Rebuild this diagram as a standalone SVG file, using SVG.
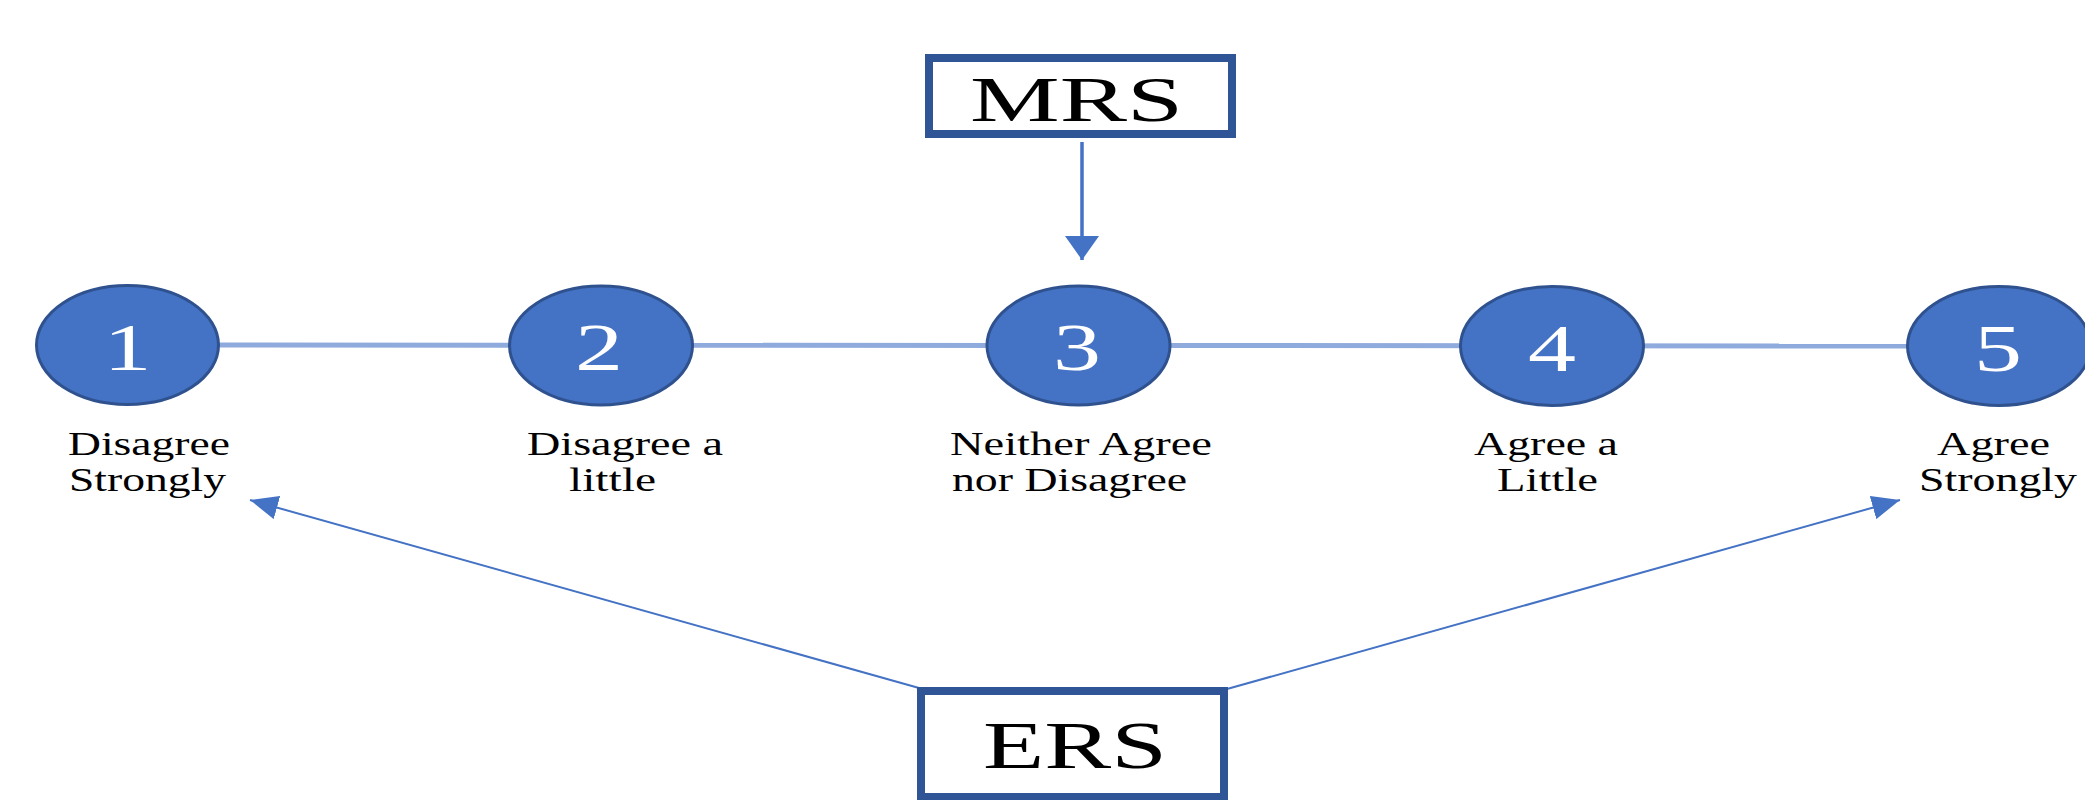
<svg xmlns="http://www.w3.org/2000/svg" width="2085" height="800" viewBox="0 0 2085 800">
<style>
.bg{fill:#ffffff}
.box{fill:#ffffff;stroke:#2F5597;stroke-width:8}
.boxtxt{font-family:"Liberation Serif","Times New Roman",serif;font-size:68px;fill:#000000}
.mrstxt{font-size:64px}
.dot{fill:#4472C4;stroke:#2F528F;stroke-width:3}
.num{font-family:"Liberation Serif","Times New Roman",serif;font-size:68px;fill:#ffffff;text-anchor:middle}
.lbl{font-family:"Liberation Serif","Times New Roman",serif;font-size:33px;fill:#000000}
.scale{fill:none;stroke:#8FAADC;stroke-width:5}
.arr{fill:none;stroke:#4472C4;stroke-width:2}
.arrv{fill:none;stroke:#4472C4;stroke-width:3.5}
</style>
<defs>
<marker id="headV" markerUnits="userSpaceOnUse" markerWidth="24" markerHeight="34" refX="24" refY="17" orient="auto">
<path d="M0,0 L24,17 L0,34 z" fill="#4472C4"/>
</marker>
<marker id="headS" markerUnits="userSpaceOnUse" markerWidth="28" markerHeight="24" refX="28" refY="12" orient="auto">
<path d="M0,0 L28,12 L0,24 z" fill="#4472C4"/>
</marker>
</defs>
<rect class="bg" x="0" y="0" width="2085" height="800"/>
<g id="connectors">
<line class="scale" x1="127" y1="345" x2="1999" y2="346"/>
<line class="arrv" x1="1082" y1="142" x2="1082" y2="260" marker-end="url(#headV)"/>
<line class="arr" x1="919" y1="688" x2="250" y2="500" marker-end="url(#headS)"/>
<line class="arr" x1="1227" y1="689" x2="1900" y2="500" marker-end="url(#headS)"/>
</g>
<g id="node-mrs">
<rect class="box" x="929" y="58" width="303" height="76"/>
<text class="boxtxt mrstxt" x="970" y="121" textLength="213" lengthAdjust="spacingAndGlyphs">MRS</text>
</g>
<g id="node-ers">
<rect class="box" x="921" y="691" width="303" height="106"/>
<text class="boxtxt" x="983" y="768" textLength="184" lengthAdjust="spacingAndGlyphs">ERS</text>
</g>
<g id="node-1">
<ellipse class="dot" cx="127.5" cy="345" rx="91" ry="59.5"/>
<text class="num" x="127.5" y="370" textLength="48" lengthAdjust="spacingAndGlyphs">1</text>
<text class="lbl" x="68" y="455" textLength="162" lengthAdjust="spacingAndGlyphs">Disagree</text>
<text class="lbl" x="69" y="491" textLength="157" lengthAdjust="spacingAndGlyphs">Strongly</text>
</g>
<g id="node-2">
<ellipse class="dot" cx="601" cy="345.5" rx="91.5" ry="59.5"/>
<text class="num" x="599" y="370" textLength="48" lengthAdjust="spacingAndGlyphs">2</text>
<text class="lbl" x="527" y="455" textLength="196" lengthAdjust="spacingAndGlyphs">Disagree a</text>
<text class="lbl" x="569" y="491" textLength="87" lengthAdjust="spacingAndGlyphs">little</text>
</g>
<g id="node-3">
<ellipse class="dot" cx="1078.5" cy="345.5" rx="91.5" ry="59.5"/>
<text class="num" x="1077" y="370" textLength="48" lengthAdjust="spacingAndGlyphs">3</text>
<text class="lbl" x="950" y="455" textLength="262" lengthAdjust="spacingAndGlyphs">Neither Agree</text>
<text class="lbl" x="952" y="491" textLength="235" lengthAdjust="spacingAndGlyphs">nor Disagree</text>
</g>
<g id="node-4">
<ellipse class="dot" cx="1552" cy="346" rx="91.5" ry="59.5"/>
<text class="num" x="1552" y="371" textLength="48" lengthAdjust="spacingAndGlyphs">4</text>
<text class="lbl" x="1474" y="455" textLength="144" lengthAdjust="spacingAndGlyphs">Agree a</text>
<text class="lbl" x="1497" y="491" textLength="101" lengthAdjust="spacingAndGlyphs">Little</text>
</g>
<g id="node-5">
<ellipse class="dot" cx="1999" cy="346" rx="91.5" ry="59.5"/>
<text class="num" x="1998" y="371" textLength="48" lengthAdjust="spacingAndGlyphs">5</text>
<text class="lbl" x="1937" y="455" textLength="113" lengthAdjust="spacingAndGlyphs">Agree</text>
<text class="lbl" x="1919" y="491" textLength="158" lengthAdjust="spacingAndGlyphs">Strongly</text>
</g>
</svg>
